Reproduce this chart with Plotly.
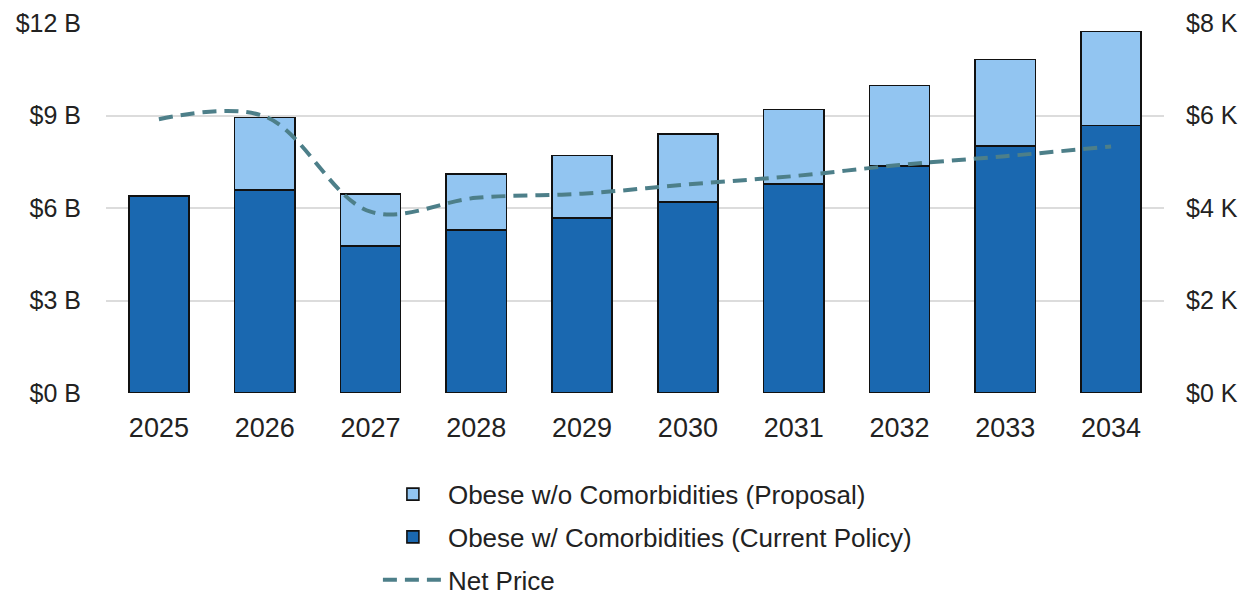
import plotly.graph_objects as go

years = ["2025", "2026", "2027", "2028", "2029", "2030", "2031", "2032", "2033", "2034"]
current_policy = [6.39, 6.59, 4.76, 5.29, 5.67, 6.20, 6.77, 7.37, 8.02, 8.67]
proposal = [0.0, 2.34, 1.70, 1.82, 2.03, 2.20, 2.42, 2.60, 2.80, 3.06]
net_price = [5.92, 5.98, 3.92, 4.22, 4.31, 4.51, 4.69, 4.93, 5.12, 5.33]

left_ticks = [0, 3, 6, 9, 12]
left_labels = ["$0 B", "$3 B", "$6 B", "$9 B", "$12 B"]
right_ticks = [0, 2, 4, 6, 8]
right_labels = ["$0 K", "$2 K", "$4 K", "$6 K", "$8 K"]

FONT = "Liberation Sans, Arial, sans-serif"
TXT = "#222222"

fig = go.Figure()
fig.add_trace(go.Bar(
    x=years, y=current_policy, name="Obese w/ Comorbidities (Current Policy)",
    marker=dict(color="#1a68b0", line=dict(color="#111111", width=1.6)),
    legendrank=2, legendgroup="b"))
fig.add_trace(go.Bar(
    x=years, y=proposal, name="Obese w/o Comorbidities (Proposal)",
    marker=dict(color="#92c5f1", line=dict(color="#111111", width=1.6)),
    legendrank=1, legendgroup="a"))
fig.add_trace(go.Scatter(
    x=years, y=net_price, name="Net Price", yaxis="y2", mode="lines",
    line=dict(color="#4d7f89", width=4, dash="14px,8px", shape="spline", smoothing=1),
    legendrank=3, legendgroup="c"))

fig.update_layout(
    width=1249, height=591,
    barmode="stack", bargap=0.43,
    paper_bgcolor="white", plot_bgcolor="white",
    margin=dict(l=98, r=93, t=15, b=206, autoexpand=False),
    font=dict(family=FONT, size=26, color=TXT),
    xaxis=dict(showgrid=False, showline=False, ticks="", ticklabelstandoff=16,
               tickfont=dict(size=27, color=TXT)),
    yaxis=dict(range=[0, 12], tickvals=left_ticks, ticktext=left_labels,
               showgrid=True, gridcolor="#dcdcdc", gridwidth=1.5, zeroline=False,
               ticks="", ticklabelstandoff=24, tickfont=dict(size=25, color=TXT)),
    yaxis2=dict(range=[0, 8], tickvals=right_ticks, ticktext=right_labels,
                overlaying="y", side="right", showgrid=False, zeroline=False,
                ticks="", ticklabelstandoff=21, tickfont=dict(size=25, color=TXT)),
    legend=dict(x=0.257, xanchor="left", y=-0.21, yanchor="top",
                orientation="v", traceorder="grouped", tracegroupgap=6,
                font=dict(size=26, color=TXT), itemwidth=60),
    showlegend=True,
)

fig.write_html("out.html")
